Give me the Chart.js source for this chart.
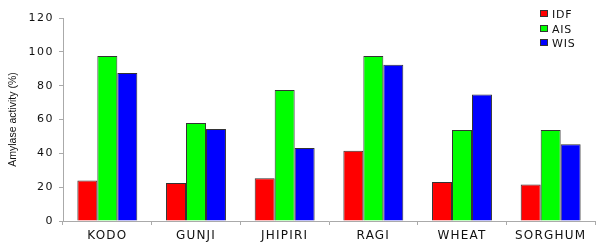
<!DOCTYPE html>
<html>
<head>
<meta charset="utf-8">
<script src="https://cdn.jsdelivr.net/npm/chart.js@4"></script>
<style>
  body { margin: 0; background: #fff; }
  #wrap { position: relative; width: 600px; height: 246px; }
  #legend { position: absolute; left: 540px; top: 8px; font: 11px "DejaVu Sans", sans-serif; color: #111; letter-spacing: 0.8px; }
  #legend div { height: 14.6px; line-height: 14px; white-space: nowrap; }
  #legend span { display: inline-block; width: 6px; height: 5px; border: 1px solid #333; margin-right: 4px; vertical-align: 1px; }
</style>
</head>
<body>
<div id="wrap">
  <canvas id="myChart" width="600" height="246"></canvas>
  <div id="legend"></div>
</div>
<script>
const categories = ['KODO', 'GUNJI', 'JHIPIRI', 'RAGI', 'WHEAT', 'SORGHUM'];
const idf = [24.0, 22.5, 25.2, 41.5, 23.0, 21.6];
const ais = [97.5, 57.9, 77.4, 97.5, 53.8, 53.8];
const wis = [87.5, 54.4, 43.1, 92.4, 74.8, 45.3];
const seriesNames = ['IDF', 'AIS', 'WIS'];
const seriesColors = ['#ff0000', '#00ff00', '#0000ff'];

let sets = [idf, ais, wis].map(function (d, i) {
    return {
        label: seriesNames[i],
        data: d,
        backgroundColor: seriesColors[i],
        borderColor: '#333',
        borderWidth: 1,
        categoryPercentage: 0.676,
        barPercentage: 1
    };
});

// legend drawn as html, sits inside the plot at top right
let legendBox = document.getElementById('legend');
seriesNames.forEach(function (n, i) {
    legendBox.innerHTML += '<div><span style="background:' + seriesColors[i] + '"></span>' + n + '</div>';
});

// tick labels in the original look stretched wide, fake it with letter spacing
const spacedTicks = {
    id: 'spacedTicks',
    beforeDraw: (chart) => {
        Object.values(chart.scales).forEach((s) => {
            if (s._spaced) return;
            let orig = s.drawLabels.bind(s);
            let sp = s.axis === 'x' ? '1.2px' : '1.5px';
            s.drawLabels = function (area) {
                chart.ctx.save();
                chart.ctx.letterSpacing = sp;
                orig(area);
                chart.ctx.restore();
            };
            s._spaced = true;
        });
    }
};

const tickFont = "'DejaVu Sans', sans-serif";

let ctx = document.getElementById('myChart').getContext('2d');
this.chart = new Chart(ctx, {
    type: 'bar',
    data: { labels: categories, datasets: sets },
    plugins: [spacedTicks],
    options: {
        responsive: false,
        animation: false,
        layout: { padding: { top: 18, right: 5, left: 0, bottom: 0 } },
        plugins: { legend: { display: false }, tooltip: { enabled: false } },
        scales: {
            x: {
                grid: { display: true, drawOnChartArea: false, color: '#aaa', tickLength: 4, offset: true },
                border: { color: '#aaa' },
                ticks: { color: '#111', font: { family: tickFont, size: 12 }, padding: 4, maxRotation: 0 },
                afterFit: function (s) { s.height = 25; }
            },
            y: {
                min: 0, max: 120,
                grid: { display: true, drawOnChartArea: false, color: '#aaa', tickLength: 4 },
                border: { color: '#aaa' },
                ticks: { stepSize: 20, color: '#111', font: { family: tickFont, size: 11 }, padding: 5 },
                title: {
                    display: true, text: 'Amylase activity (%)', color: '#111',
                    font: { family: "'Liberation Sans', Arial, sans-serif", size: 10.5 },
                    padding: { top: 7, bottom: 0 }
                },
                afterFit: function (s) { s.width = 63; }
            }
        }
    }
});
</script>
</body>
</html>
